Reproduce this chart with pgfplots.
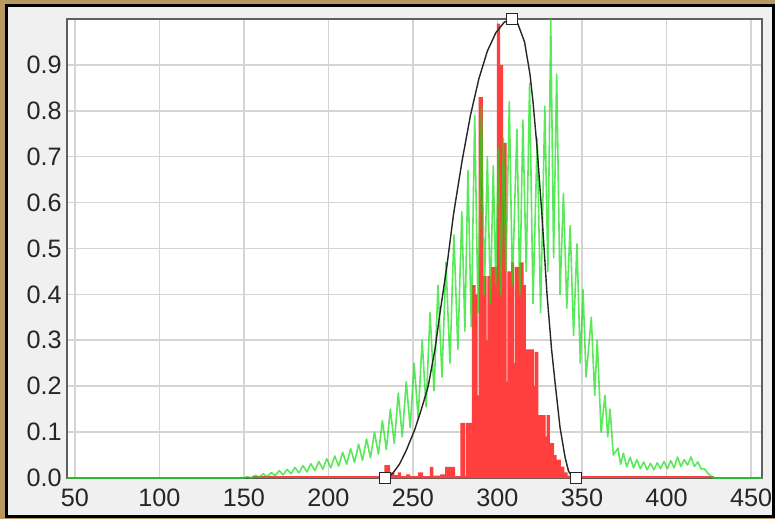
\documentclass[border=0pt]{standalone}
\usepackage{fontspec}
\setmainfont{Liberation Sans}
\usepackage{pgfplots}
\pgfplotsset{compat=1.18}
\definecolor{gold}{RGB}{183,151,98}
\definecolor{panel}{RGB}{240,240,240}
\definecolor{barred}{RGB}{255,62,62}
\definecolor{specgreen}{RGB}{20,225,20}
\definecolor{gridgray}{RGB}{212,212,212}
\definecolor{framegray}{RGB}{95,95,95}
\begin{document}
\begin{tikzpicture}
\fill[gold] (0pt,0pt) rectangle (387.5pt,259.5pt);
\fill[black] (2.5pt,0.5pt) rectangle (387.5pt,257.5pt);
\fill[panel] (4pt,2pt) rectangle (386pt,256pt);
\begin{axis}[
  at={(33.5pt,20.5pt)}, anchor=south west,
  scale only axis, width=347.5pt, height=229.5pt,
  xmin=45.3, xmax=456.5, ymin=0, ymax=1,
  axis background/.style={fill=white},
  axis line style={draw=framegray, line width=1pt},
  grid=major, major grid style={draw=gridgray, line width=0.8pt},
  major tick length=0pt,
  xtick={50,100,150,200,250,300,350,400,450},
  xticklabels={50,100,150,200,250,300,350,400,450},
  ytick={0,0.1,0.2,0.3,0.4,0.5,0.6,0.7,0.8,0.9},
  yticklabels={0.0,0.1,0.2,0.3,0.4,0.5,0.6,0.7,0.8,0.9},
  tick label style={font=\fontsize{12.6}{14}\selectfont, text=black!85},
  xticklabel style={anchor=north, inner sep=0pt, yshift=-5.5pt},
  yticklabel style={anchor=east, inner sep=0pt, xshift=-2.5pt},
  clip mode=individual,
]
% red histogram
\addplot[const plot, fill=barred, draw=none] coordinates {
(233,0.028)(236.5,0.012)(239,0.006)(241,0.012)(243,0.004)(246,0.008)(248.5,0.003)
(253,0.012)(256,0.004)(260,0.024)(262,0.005)(266,0.008)(269,0.024)(272.5,0.024)
(275,0.004)(278,0.12)(280.8,0.0)(281.3,0.12)(284.8,0.42)(287,0.40)(288.3,0.18)
(288.8,0.83)(291.3,0.44)(293.5,0.30)(294,0.44)(296,0.46)(299.7,0.99)(301.5,0.90)
(303.3,0.73)(305.4,0.21)(305.9,0.45)(308,0.47)(309.8,0.25)(310.3,0.46)(313,0.47)
(315.5,0.42)(316.8,0.28)(321.5,0.2)(322,0.275)(324.2,0.137)(328.5,0.09)(329,0.137)
(331,0.076)(333.5,0.05)(335,0.04)(337.5,0.025)(339.5,0.012)(341.5,0.005)(343,0)
} \closedcycle;
% red baseline
\addplot[barred, line width=1.1pt] coordinates {(155,0.003)(428,0.003)};
% green spectrum
\addplot[specgreen, opacity=0.7, line width=0.8pt, line join=round] coordinates {
(45,0)(150,0)
(152.0,0.003)(154.35,0.000)(156.7,0.006)(159.05,0.002)(161.4,0.009)(163.75,0.003)
(166.1,0.012)(168.45,0.005)(170.8,0.016)(173.15,0.007)(175.5,0.019)(177.85,0.009)
(180.2,0.023)(182.55,0.011)(184.9,0.027)(187.25,0.013)(189.6,0.031)(191.95,0.016)
(194.3,0.036)(196.65,0.019)(199.0,0.042)(201.35,0.022)(203.7,0.048)(206.05,0.026)
(208.4,0.056)(210.75,0.030)(213.1,0.064)(215.45,0.034)(217.8,0.074)(220.15,0.038)
(222.5,0.085)(224.85,0.044)(227.2,0.10)(229.55,0.052)(231.9,0.125)(234.25,0.062)
(236.6,0.15)(238.95,0.075)(241.3,0.185)(243.65,0.09)(246.0,0.21)(248.35,0.11)
(250.7,0.25)(253.05,0.13)(255.4,0.30)(257.75,0.155)(260.1,0.36)(262.45,0.19)
(264.8,0.42)(267.15,0.22)(269.5,0.47)(271.85,0.25)(274.2,0.53)(276.55,0.28)
(278.9,0.58)(280.7,0.32)
(282.5,0.67)(284.5,0.33)(286.5,0.79)(288.5,0.36)(290.5,0.81)(292.2,0.40)
(294,0.70)(295.8,0.38)(297.5,0.68)(299,0.42)(300.5,0.72)(302,0.40)
(303.5,0.74)(305,0.45)(307,0.82)(308.8,0.42)(311.5,0.76)(313.2,0.40)
(315,0.78)(317,0.45)(319,0.86)(321,0.38)(323.5,0.74)(325.5,0.36)
(328,0.81)(329.8,0.45)(331.5,1.0)(333.2,0.48)(335,0.88)(337,0.40)
(339,0.62)(341,0.37)(343,0.55)(345,0.31)(347,0.51)(349,0.25)
(350.6,0.41)(352.4,0.22)(355.5,0.35)(357.5,0.18)(359,0.30)(361.3,0.10)
(363.6,0.18)(365.2,0.09)(366.6,0.15)(368.5,0.05)(371.3,0.065)(372.8,0.03)
(374.5,0.054)(376.5,0.024)(378.5,0.045)(380.5,0.022)(382.5,0.04)(384.5,0.02)
(386.5,0.035)(388.5,0.018)(390.5,0.032)(392.5,0.018)(394.5,0.033)(396.5,0.02)
(398.5,0.036)(400.5,0.02)(402.5,0.038)(404.5,0.022)(406.5,0.046)(408.5,0.025)
(410.5,0.04)(412.5,0.028)(414.5,0.046)(416.5,0.025)(418.5,0.035)(420.5,0.02)
(422.5,0.02)(424.5,0.01)(426,0.005)(428,0)(456.5,0)
};
% black filter curve
\addplot[black!85, line width=0.7pt, line join=round] coordinates {
(233.4,0)(236,0.004)(238,0.01)(242,0.03)(246,0.06)(251,0.105)(255,0.15)(259,0.2)
(263,0.28)(266,0.36)(270,0.46)(274,0.575)(279,0.69)(284,0.79)(289,0.87)(294,0.93)
(299,0.97)(304,0.993)(308.6,1.0)(312,0.99)(316,0.95)(319.2,0.88)(321,0.82)
(323.4,0.72)(326.3,0.573)(329.3,0.40)(332,0.28)(334,0.21)(337,0.11)(340,0.045)
(342,0.015)(344,0.004)(346.4,0)
};
% handles
\addplot[only marks, mark=square*, mark size=2.75pt,
  mark options={fill=white, draw=black!85, line width=0.6pt}] coordinates {
(233.4,0)(308.6,1.0)(346.4,0)
};
\end{axis}
\end{tikzpicture}
\end{document}
